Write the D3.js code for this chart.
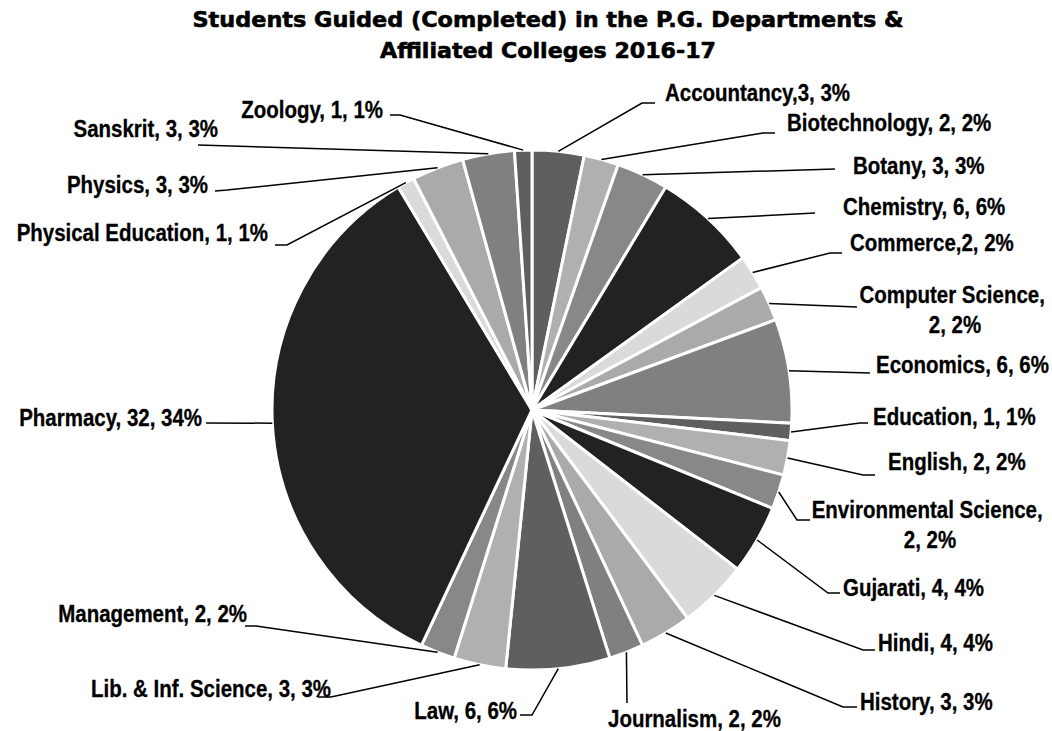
<!DOCTYPE html>
<html>
<head>
<meta charset="utf-8">
<script src="https://cdn.jsdelivr.net/npm/d3@7"></script>
<style>
  body { margin: 0; background: #fff; }
  .label { font-family: "Liberation Sans", Arial, sans-serif; font-weight: bold; font-size: 23px; fill: #000; stroke: #000; stroke-width: 0.3px; }
  .title { font-family: "DejaVu Sans", sans-serif; font-weight: bold; font-size: 21px; fill: #000; stroke: #000; stroke-width: 0.6px; }
</style>
</head>
<body>
<svg id="chart" width="1052" height="731"></svg>
<script>
// Data
const subjects = ["Accountancy", "Biotechnology", "Botany", "Chemistry", "Commerce", "Computer Science",
    "Economics", "Education", "English", "Environmental Science", "Gujarati", "Hindi", "History",
    "Journalism", "Law", "Lib. & Inf. Science", "Management", "Pharmacy", "Physical Education",
    "Physics", "Sanskrit", "Zoology"];
const students = [3, 2, 3, 6, 2, 2, 6, 1, 2, 2, 4, 4, 3, 2, 6, 3, 2, 32, 1, 3, 3, 1];
const tightLabels = ["Accountancy", "Commerce"]; // no space after the name's comma
const titleLines = ["Students Guided (Completed) in the P.G. Departments &", "Affiliated Colleges 2016-17"];

// grey cycle used by the slices
const greys = ["#5f5f5f", "#b0b0b0", "#888888", "#222222", "#dadada", "#aaaaaa", "#808080"];

// Label placement (layout only): text position, anchor, leader bend and end
const labelLayout = [
    { x: 665, y: 93, anchor: "start", bend: [642, 103], end: [655, 103] },
    { x: 787, y: 123, anchor: "start", bend: [763, 133], end: [775, 133] },
    { x: 853, y: 166, anchor: "start", end: [835, 169] },
    { x: 843, y: 207, anchor: "start", end: [815, 213] },
    { x: 850, y: 243, anchor: "start", bend: [830, 253], end: [842, 253] },
    { x: 955, y: 295, anchor: "middle", wrap: true, end: [857, 307] },
    { x: 876, y: 365, anchor: "start", end: [870, 373] },
    { x: 873, y: 417, anchor: "start", bend: [860, 423], end: [868, 423] },
    { x: 888, y: 462, anchor: "start", bend: [863, 475], end: [875, 475] },
    { x: 930, y: 510, anchor: "middle", wrap: true, bend: [797, 520], end: [810, 520] },
    { x: 843, y: 588, anchor: "start", bend: [828, 593], end: [840, 593] },
    { x: 878, y: 643, anchor: "start", bend: [863, 650], end: [875, 650] },
    { x: 860, y: 702, anchor: "start", bend: [843, 707], end: [857, 707] },
    { x: 608, y: 719, anchor: "start", end: [627, 703] },
    { x: 517, y: 711, anchor: "end", bend: [532, 715], end: [520, 715] },
    { x: 331, y: 689, anchor: "end", bend: [331, 697], end: [318, 697] },
    { x: 247, y: 614, anchor: "end", bend: [256, 626], end: [245, 626] },
    { x: 202, y: 418, anchor: "end", end: [206, 423] },
    { x: 268, y: 233, anchor: "end", bend: [287, 245], end: [275, 245] },
    { x: 208, y: 185, anchor: "end", bend: [227, 190], end: [215, 191] },
    { x: 218, y: 129, anchor: "end", end: [198, 145] },
    { x: 383, y: 110, anchor: "end", bend: [400, 115], end: [390, 115] }
];

const svg = d3.select("#chart");
const cx = 532, cy = 410, radius = 260;
const squeeze = 0.89; // labels are set in a condensed face
const total = d3.sum(students);

const rows = subjects.map((s, i) => ({ name: s, value: students[i], layout: labelLayout[i] }));

const pie = d3.pie().sort(null).value(d => d.value);
const arc = d3.arc().innerRadius(0).outerRadius(radius);
const arcs = pie(rows);

const g = svg.append("g").attr("transform", `translate(${cx},${cy})`);

g.selectAll("path.slice")
    .data(arcs)
    .enter().append("path")
    .attr("class", "slice")
    .attr("d", arc)
    .attr("fill", (d, i) => greys[i % greys.length])
    .attr("stroke", "#fff")
    .attr("stroke-width", 3)
    .attr("stroke-linejoin", "round");

// Leader lines
const edgePoint = d => {
    const a = (d.startAngle + d.endAngle) / 2;
    return [cx + radius * Math.sin(a), cy - radius * Math.cos(a)];
};

svg.selectAll("path.leader")
    .data(arcs)
    .enter().append("path")
    .attr("class", "leader")
    .attr("fill", "none")
    .attr("stroke", "#000")
    .attr("stroke-width", 1.5)
    .attr("d", d => {
        const L = d.data.layout;
        const pts = [edgePoint(d)];
        if (L.bend) pts.push(L.bend);
        pts.push(L.end);
        return d3.line()(pts);
    });

// Labels
const labelText = d => {
    const pct = Math.round(d.data.value / total * 100);
    const sep = tightLabels.includes(d.data.name) ? "," : ", ";
    return [d.data.name + sep, d.data.value + ", " + pct + "%"];
};

svg.selectAll("g.label-g")
    .data(arcs)
    .enter().append("g")
    .attr("class", "label-g")
    .attr("transform", d => `translate(${d.data.layout.x},${d.data.layout.y}) scale(${squeeze},1)`)
    .append("text")
    .attr("class", "label")
    .attr("text-anchor", d => d.data.layout.anchor)
    .each(function(d) {
        const L = d.data.layout;
        const parts = labelText(d);
        const t = d3.select(this);
        if (L.wrap) {
            t.append("tspan").attr("x", 0).attr("y", 0).attr("dy", "0.35em").text(parts[0]);
            t.append("tspan").attr("x", 0).attr("y", 30).attr("dy", "0.35em").text(parts[1]);
        } else {
            t.append("tspan").attr("x", 0).attr("y", 0).attr("dy", "0.35em").text(parts[0] + parts[1]);
        }
    });

// Title
const titleWidths = [711, 336];
svg.selectAll("text.title")
    .data(titleLines)
    .enter().append("text")
    .attr("class", "title")
    .attr("x", 548)
    .attr("y", (d, i) => 20 + i * 31)
    .attr("dy", "0.35em")
    .attr("text-anchor", "middle")
    .attr("textLength", (d, i) => titleWidths[i])
    .attr("lengthAdjust", "spacingAndGlyphs")
    .text(d => d);
</script>
</body>
</html>
